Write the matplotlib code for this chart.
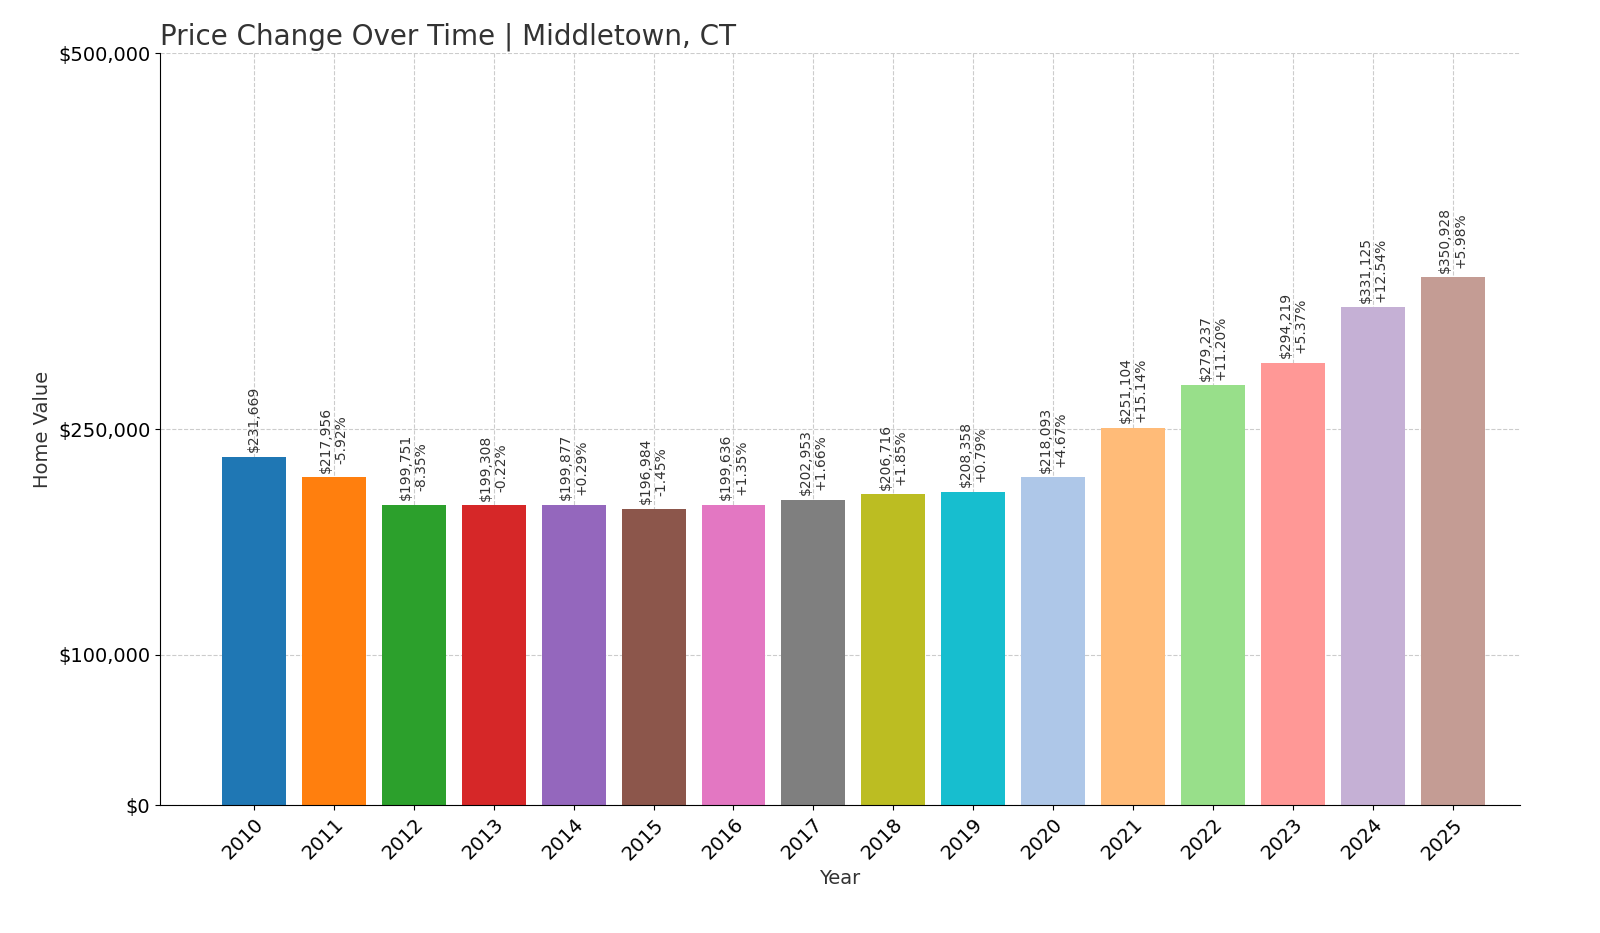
import matplotlib
matplotlib.use("Agg")
import matplotlib.pyplot as plt

years = [str(y) for y in range(2010, 2026)]
values = [231669, 217956, 199751, 199308, 199877, 196984, 199636, 202953,
          206716, 208358, 218093, 251104, 279237, 294219, 331125, 350928]
changes = ["", "-5.92%", "-8.35%", "-0.22%", "+0.29%", "-1.45%", "+1.35%", "+1.66%",
           "+1.85%", "+0.79%", "+4.67%", "+15.14%", "+11.20%", "+5.37%", "+12.54%", "+5.98%"]
yticks = [0, 100000, 250000, 500000]
ytick_labels = ["$0", "$100,000", "$250,000", "$500,000"]
colors = ["#1f77b4", "#ff7f0e", "#2ca02c", "#d62728", "#9467bd", "#8c564b", "#e377c2",
          "#7f7f7f", "#bcbd22", "#17becf", "#aec7e8", "#ffbb78", "#98df8a", "#ff9896",
          "#c5b0d5", "#c49c94"]

fig = plt.figure(figsize=(16, 9.33), dpi=100)
ax = fig.add_axes([0.1, 0.137, 0.85, 0.806])
x = list(range(len(years)))
ax.bar(x, values, width=0.8, color=colors, zorder=2)
for i, v in enumerate(values):
    txt = f"${v:,}" + (f"\n{changes[i]}" if changes[i] else "")
    ax.text(i, v + 3000, txt, rotation=90, ha="center", va="bottom",
            fontsize=10, color="#333333", linespacing=1.1, zorder=3)
ax.set_xlim(-1.175, 15.84)
ax.set_ylim(0, 500000)
ax.set_yticks(yticks)
ax.set_yticklabels(ytick_labels, fontsize=14)
ax.set_xticks(x)
ax.set_xticklabels(years, rotation=45, ha="right", rotation_mode="anchor", fontsize=14)
ax.grid(True, linestyle="--", color="#cccccc", linewidth=0.8, zorder=0)
ax.spines["top"].set_visible(False)
ax.spines["right"].set_visible(False)
ax.set_xlabel("Year", fontsize=14, color="#333333")
ax.set_ylabel("Home Value", fontsize=14, color="#333333")
ax.set_title("Price Change Over Time | Middletown, CT", loc="left", fontsize=20, color="#333333")
fig.savefig("out.png", dpi=100)
